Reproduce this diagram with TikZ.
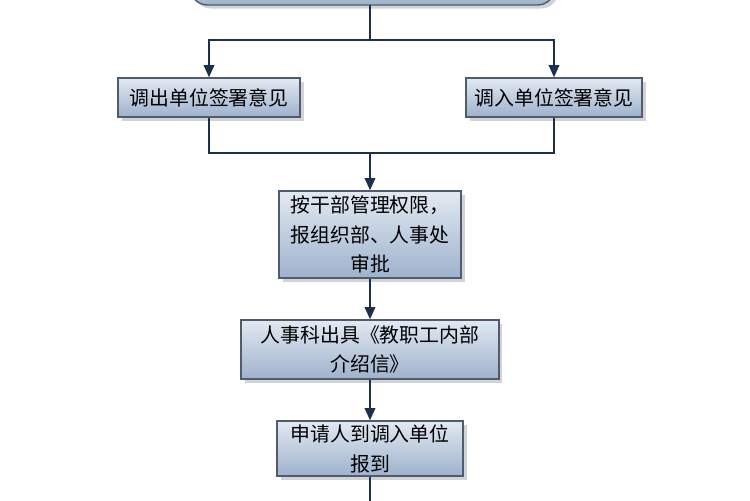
\documentclass[tikz,border=0pt]{standalone}
\usepackage{fontspec}
\newfontfamily\cjk{Noto Sans CJK SC}
\usetikzlibrary{shadows,arrows.meta}
\definecolor{boxtop}{RGB}{226,233,242}
\definecolor{boxbot}{RGB}{158,178,204}
\definecolor{boxline}{RGB}{80,92,110}
\definecolor{linkcol}{RGB}{28,48,78}
\tikzset{
  stepbox/.style={draw=boxline, line width=0.8pt, top color=boxtop,
    bottom color=boxbot, drop shadow={shadow xshift=2pt, shadow yshift=-2pt, opacity=0.35},
    align=center, font=\cjk\fontsize{11.3}{17}\selectfont, inner sep=0pt},
  link/.style={draw=linkcol, line width=1.2pt},
  arr/.style={link, -{Triangle[length=7pt,width=6pt]}}
}
\begin{document}
\begin{tikzpicture}[x=0.02cm, y=-0.02cm]
\useasboundingbox (0,0) rectangle (750,500);
\clip (0,0) rectangle (750,500);
% top box, mostly outside the picture
\draw [stepbox, rounded corners=10pt] (190,-40) rectangle (555,5);
\coordinate (top) at (370,5);
\node [stepbox, minimum width=3.64cm, minimum height=0.78cm] (out) at (209,97.5) {调出单位签署意见};
\node [stepbox, minimum width=3.52cm, minimum height=0.78cm] (in) at (554,97.5) {调入单位签署意见};
\node [stepbox, minimum width=3.64cm, minimum height=1.74cm] (app) at (370,234.5) {按干部管理权限，\\报组织部、人事处\\审批};
\node [stepbox, minimum width=5.16cm, minimum height=1.18cm] (letter) at (370,349.5) {人事科出具《教职工内部\\介绍信》};
\node [stepbox, minimum width=3.72cm, minimum height=1.1cm] (report) at (370,448.5) {申请人到调入单位\\报到};
\coordinate (split) at (370,40);
\coordinate (join) at (370,153);
\coordinate (end) at (370,510);
% connectors
\draw [link] (top) -- (split);
\draw [arr] (split) -| (out.north);
\draw [arr] (split) -| (in.north);
\draw [link] (out.south) |- (join);
\draw [link] (in.south) |- (join);
\draw [arr] (join) -- (app);
\draw [arr] (app) -- (letter);
\draw [arr] (letter) -- (report);
\draw [link] (report) -- (end);
\end{tikzpicture}
\end{document}
